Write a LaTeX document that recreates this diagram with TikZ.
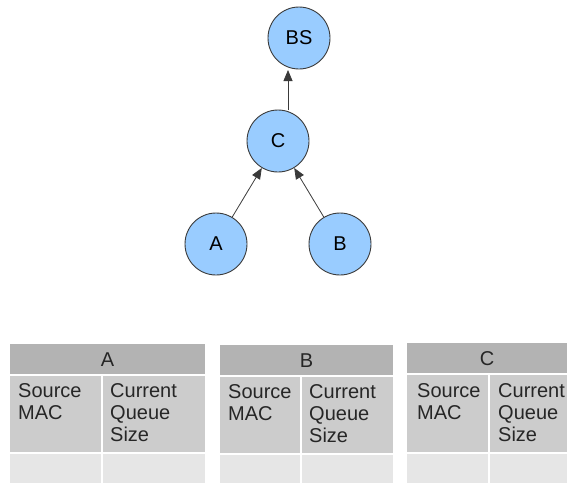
\documentclass[tikz,border=0pt]{standalone}
\usepackage{fontspec}
\setmainfont{Liberation Sans}
\usetikzlibrary{arrows.meta}
\definecolor{nodefill}{HTML}{99CCFF}
\definecolor{nodeline}{HTML}{3A3A3A}
\definecolor{headgray}{HTML}{B3B3B3}
\definecolor{midgray}{HTML}{CCCCCC}
\definecolor{lowgray}{HTML}{E6E6E6}
\tikzset{
  station/.style={circle, draw=nodeline, line width=0.9pt, fill=nodefill,
    minimum size=62pt, inner sep=0pt, font=\fontsize{20}{22}\selectfont},
  link/.style={draw=nodeline, line width=0.8pt,
    -{Triangle[length=11pt,width=9pt]}},
  cell/.style={font=\fontsize{20}{22}\selectfont, inner sep=0pt,
    align=left, anchor=north west, text=black!85},
  headtext/.style={font=\fontsize{20}{22}\selectfont, inner sep=0pt,
    anchor=base, text=black!85}
}
\begin{document}
\begin{tikzpicture}[x=1pt,y=-1pt]
\useasboundingbox (0,0) rectangle (567,483);

% tree of stations
\node[station] (bs) at (299,38) {BS};
\node[station] (c)  at (278,141) {C};
\node[station] (a)  at (216,244) {A};
\node[station] (b)  at (340,244) {B};

\coordinate (cup) at (288,110);
\coordinate (bsdown) at (288,70);
\draw[link] (cup) -- (bsdown);
\draw[link] (a) -- (c);
\draw[link] (b) -- (c);

% queue tables
\fill[headgray] (10,344) rectangle (205,374);
\fill[midgray] (10,376) rectangle (101,452);
\fill[midgray] (103,376) rectangle (205,452);
\fill[lowgray] (10,454) rectangle (101,483);
\fill[lowgray] (103,454) rectangle (205,483);

\fill[headgray] (220,345) rectangle (393,375);
\fill[midgray] (220,377) rectangle (300,453);
\fill[midgray] (302,377) rectangle (393,453);
\fill[lowgray] (220,455) rectangle (300,483);
\fill[lowgray] (302,455) rectangle (393,483);

\fill[headgray] (407,343) rectangle (567,373);
\fill[midgray] (407,375) rectangle (488,452);
\fill[midgray] (490,375) rectangle (567,452);
\fill[lowgray] (407,454) rectangle (488,483);
\fill[lowgray] (490,454) rectangle (567,483);

\node[headtext] (ha) at (107.5,366) {A};
\node[cell] (sa) at (18,383.5) {Source\\MAC};
\node[cell] (qa) at (110,383.5) {Current\\Queue\\Size};

\node[headtext] (hb) at (306.5,367) {B};
\node[cell] (sb) at (228,384.5) {Source\\MAC};
\node[cell] (qb) at (309,384.5) {Current\\Queue\\Size};

\node[headtext] (hc) at (487,365) {C};
\node[cell] (sc) at (417,383.5) {Source\\MAC};
\node[cell] (qc) at (498,383.5) {Current\\Queue\\Size};
\end{tikzpicture}
\end{document}
